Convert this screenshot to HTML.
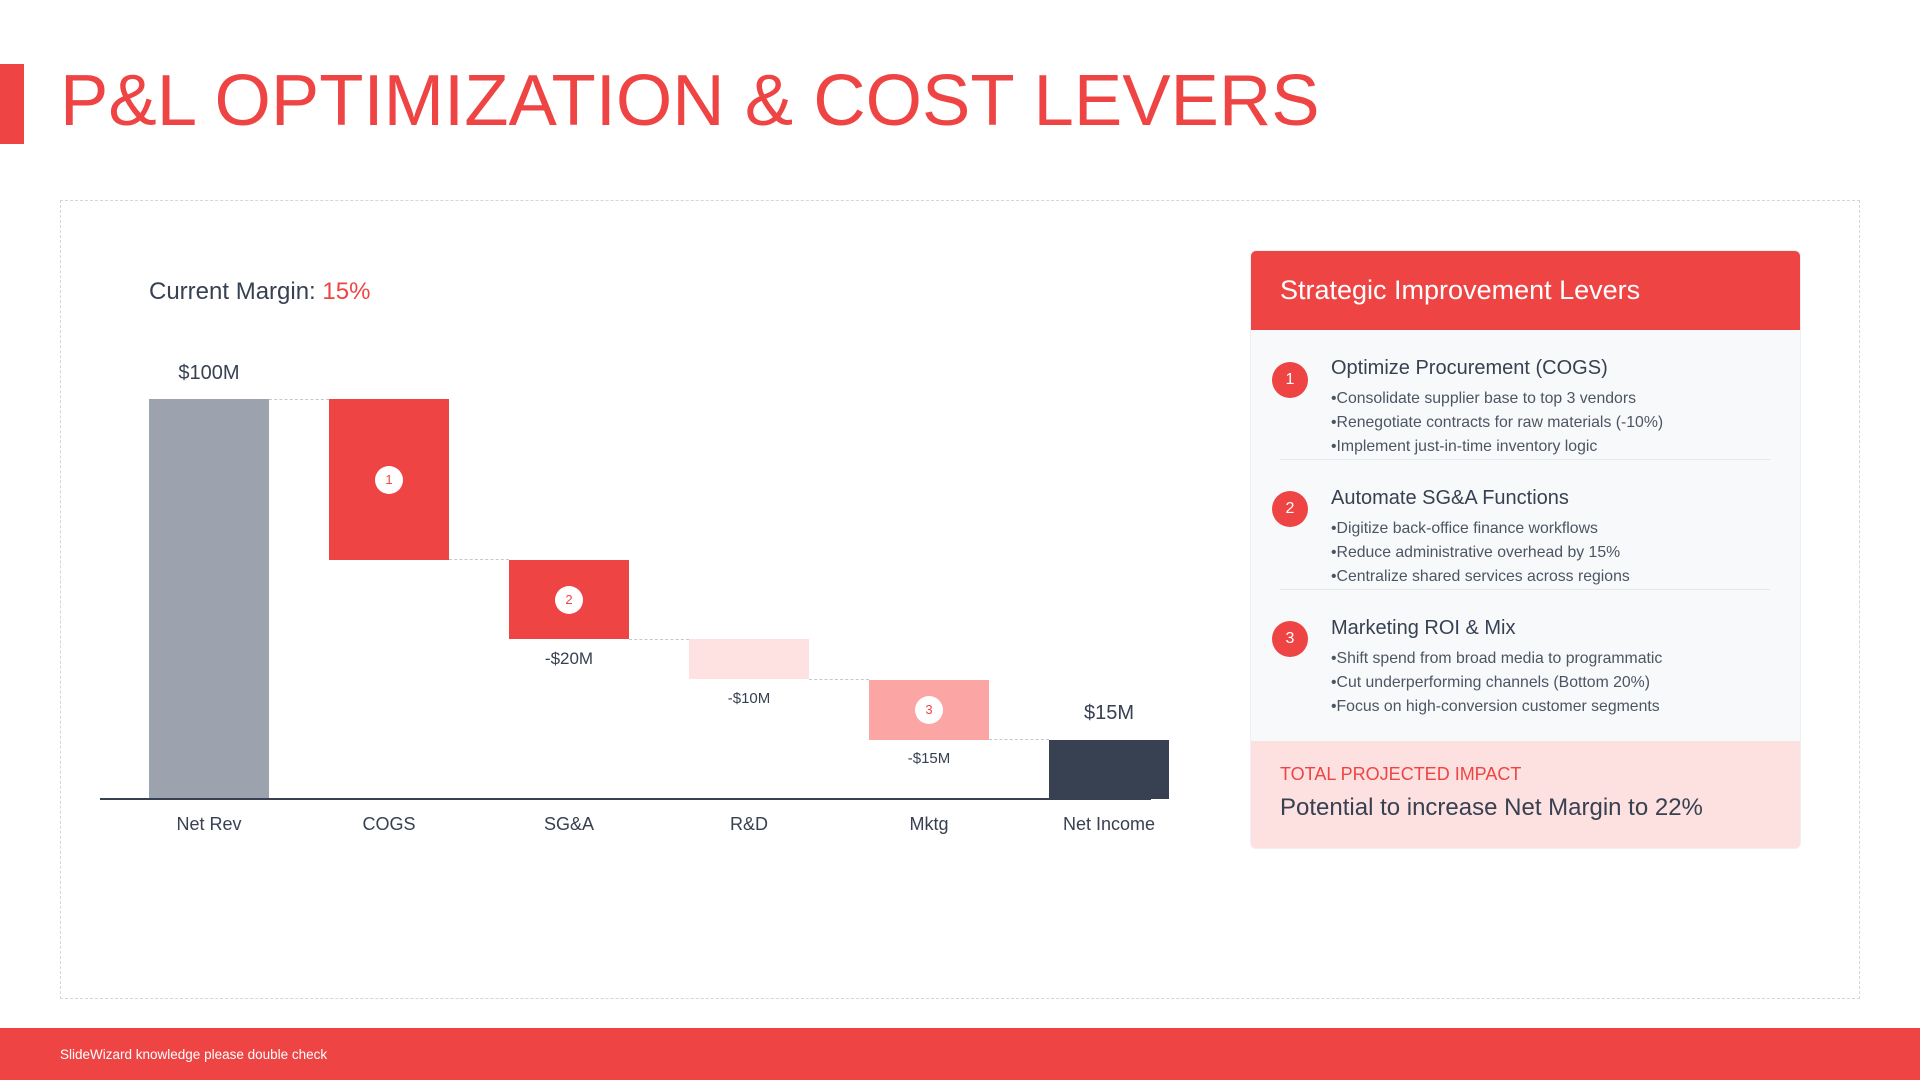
<!DOCTYPE html>
<html><head><meta charset="utf-8"><style>
*{margin:0;padding:0;box-sizing:border-box}
body{width:1920px;height:1080px;background:#fff;position:relative;overflow:hidden;font-family:"Liberation Sans",sans-serif;color:#374151}
.a{position:absolute;white-space:nowrap}
.bar{position:absolute}
.lbl{position:absolute;width:160px;text-align:center;transform:translateX(-80px)}
.badge{position:absolute;width:28px;height:28px;border-radius:50%;background:#fff;color:#ef4444;font-size:13px;text-align:center;line-height:28px;transform:translate(-14px,-14px)}
.dash{position:absolute;border-top:1.5px dashed #c8c8c8;height:0}
.num{position:absolute;width:36px;height:36px;border-radius:50%;background:#ef4444;color:#fff;font-size:16px;text-align:center;line-height:36px;left:1272px}
.it{position:absolute;left:1331px;font-size:20px;color:#374151;white-space:nowrap}
.b{position:absolute;left:1331px;font-size:15.8px;color:#4b5563;white-space:nowrap}
</style></head><body>
<div class="bar" style="left:0;top:64px;width:24px;height:80px;background:#ef4444"></div>
<div class="a" style="left:60px;top:59px;font-size:72.5px;color:#ef4444">P&amp;L OPTIMIZATION &amp; COST LEVERS</div>
<div style="position:absolute;left:60px;top:200px;width:1800px;height:799px;border:1.5px dashed #d6d6d6"></div>
<div class="a" style="left:149px;top:278px;font-size:24px;color:#374151">Current Margin: <span style="color:#ef4444">15%</span></div>

<div class="bar" style="left:149px;top:399px;width:120px;height:400px;background:#9ca3af"></div>
<div class="bar" style="left:329px;top:399px;width:120px;height:161px;background:#ef4444"></div>
<div class="bar" style="left:509px;top:560px;width:120px;height:79px;background:#ef4444"></div>
<div class="bar" style="left:689px;top:639px;width:120px;height:40px;background:#fee2e2"></div>
<div class="bar" style="left:869px;top:680px;width:120px;height:60px;background:#fca5a5"></div>
<div class="bar" style="left:1049px;top:740px;width:120px;height:59px;background:#374151"></div>
<div class="dash" style="left:269px;top:399px;width:60px"></div>
<div class="dash" style="left:449px;top:559px;width:60px"></div>
<div class="dash" style="left:629px;top:639px;width:60px"></div>
<div class="dash" style="left:809px;top:679px;width:60px"></div>
<div class="dash" style="left:989px;top:739px;width:60px"></div>
<div class="bar" style="left:100px;top:798px;width:1051px;height:2px;background:#374151"></div>
<div class="badge" style="left:389px;top:480px">1</div>
<div class="badge" style="left:569px;top:600px">2</div>
<div class="badge" style="left:929px;top:710px">3</div>

<div class="lbl" style="left:209px;top:362px;font-size:20px">$100M</div>
<div class="lbl" style="left:569px;top:649px;font-size:17px">-$20M</div>
<div class="lbl" style="left:749px;top:690px;font-size:15px">-$10M</div>
<div class="lbl" style="left:929px;top:750px;font-size:15px">-$15M</div>
<div class="lbl" style="left:1109px;top:702px;font-size:20px">$15M</div>
<div class="lbl" style="left:209px;top:814px;font-size:18px">Net Rev</div>
<div class="lbl" style="left:389px;top:814px;font-size:18px">COGS</div>
<div class="lbl" style="left:569px;top:814px;font-size:18px">SG&amp;A</div>
<div class="lbl" style="left:749px;top:814px;font-size:18px">R&amp;D</div>
<div class="lbl" style="left:929px;top:814px;font-size:18px">Mktg</div>
<div class="lbl" style="left:1109px;top:814px;font-size:18px">Net Income</div>

<div style="position:absolute;left:1250px;top:250px;width:551px;height:599px;background:#f8f9fb;border-radius:6px;overflow:hidden;border:1px solid #eef0f3">
<div style="height:79px;background:#ef4444"></div>
<div style="position:absolute;left:0;top:490px;width:100%;height:109px;background:#fde0e0"></div>
</div>
<div class="a" style="left:1280px;top:275px;font-size:27px;color:#fff">Strategic Improvement Levers</div>
<div class="num" style="top:362px">1</div>
<div class="it" style="top:357px">Optimize Procurement (COGS)</div>
<div class="b" style="top:390px">•Consolidate supplier base to top 3 vendors</div>
<div class="b" style="top:414px">•Renegotiate contracts for raw materials (-10%)</div>
<div class="b" style="top:438px">•Implement just-in-time inventory logic</div>
<div class="bar" style="left:1280px;top:459px;width:490px;height:1px;background:#e5e7eb"></div>
<div class="num" style="top:491px">2</div>
<div class="it" style="top:487px">Automate SG&amp;A Functions</div>
<div class="b" style="top:520px">•Digitize back-office finance workflows</div>
<div class="b" style="top:544px">•Reduce administrative overhead by 15%</div>
<div class="b" style="top:568px">•Centralize shared services across regions</div>
<div class="bar" style="left:1280px;top:589px;width:490px;height:1px;background:#e5e7eb"></div>
<div class="num" style="top:621px">3</div>
<div class="it" style="top:617px">Marketing ROI &amp; Mix</div>
<div class="b" style="top:650px">•Shift spend from broad media to programmatic</div>
<div class="b" style="top:674px">•Cut underperforming channels (Bottom 20%)</div>
<div class="b" style="top:698px">•Focus on high-conversion customer segments</div>
<div class="a" style="left:1280px;top:764px;font-size:18px;color:#ef4444">TOTAL PROJECTED IMPACT</div>
<div class="a" style="left:1280px;top:794px;font-size:24px;color:#374151">Potential to increase Net Margin to 22%</div>

<div class="bar" style="left:0;top:1028px;width:1920px;height:52px;background:#ef4444"></div>
<div class="a" style="left:60px;top:1047px;font-size:13.5px;color:#fff">SlideWizard knowledge please double check</div>
</body></html>
